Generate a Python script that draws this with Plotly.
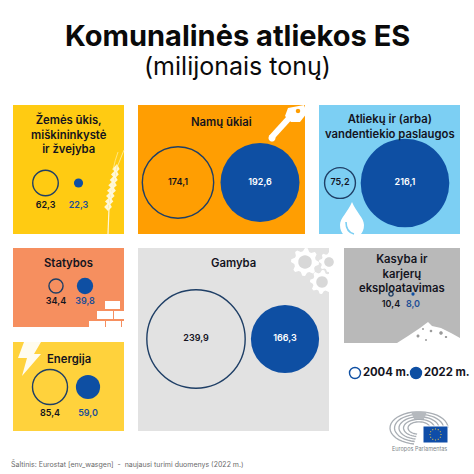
import math
import plotly.graph_objects as go

# ---------- data ----------
YEARS = [2004, 2022]
SECTORS = ["Žemės ūkis,<br>miškininkystė<br>ir žvejyba", "Namų ūkiai",
           "Atliekų ir (arba)<br>vandentiekio paslaugos", "Statybos", "Energija",
           "Gamyba", "Kasyba ir<br>karjerų<br>eksploatavimas"]
WASTE_2004 = [62.3, 174.1, 75.2, 34.4, 85.4, 239.9, 10.4]
WASTE_2022 = [22.3, 192.6, 216.1, 39.8, 59.0, 166.3, 8.0]

# ---------- layout table (page pixels) ----------
W = 474
BLUE = "#0E4FA3"
INK = "#14141E"
FONT = "Inter, 'Open Sans', sans-serif"
PANELS = [
    dict(box=(13, 124, 105, 234), cx=(45.5, 78.5), cy=183, drop=23, bg="#FFCB12", ty=134),
    dict(box=(138, 305, 105, 234), cx=(178, 260), cy=182.5, drop=0, bg="#FF9E02", ty=122),
    dict(box=(319, 460, 105, 234), cx=(340, 405), cy=183, drop=0, bg="#7CCFF3", ty=126),
    dict(box=(13, 124, 248, 327), cx=(56, 85), cy=286, drop=16, bg="#F68F5F", ty=263),
    dict(box=(13, 124, 342, 431), cx=(50, 88), cy=387, drop=27, bg="#FFD23C", ty=359),
    dict(box=(138, 329, 248, 431), cx=(196, 285), cy=339, drop=0, bg="#E2E2E2", ty=263),
    dict(box=(344, 460, 248, 343), cx=(391, 413), cy=294, drop=11, bg="#B9B9B9", ty=273),
]
LEG_BOX = (345, 472, 362, 384)
LEG_CX = (355, 416)
DIAM_PER_VALUE = 0.41


def clean(path_pts, close=True):
    return "M" + "L".join(f"{x:.1f},{y:.1f}" for x, y in path_pts) + ("Z" if close else "")


def gear(cx, cy, r, teeth=8):
    pts = []
    for i in range(teeth * 4):
        a = 2 * math.pi * i / (teeth * 4)
        rr = r if i % 4 in (0, 1) else r * 0.78
        pts.append((cx + rr * math.cos(a), cy + rr * math.sin(a)))
    return clean(pts)


def circle(cx, cy, r, n=28):
    return clean([(cx + r * math.cos(2 * math.pi * i / n), cy + r * math.sin(2 * math.pi * i / n)) for i in range(n)])


def texture(box, step, col, width=0.6):
    x0, x1, y0, y1 = box
    d = ""
    j = 0
    y = y0 + 2
    while y < y1 - 1:
        i = 0
        x = x0 + 2
        while x < x1 - 4:
            k = (i * 7 + j * 13) % 5
            dx = x + k
            dy = y + (i * 11 + j * 3) % 4 - 1
            d += f"M{dx:.1f},{dy:.1f}q{1.5+k*.4:.1f},{-2+k*.6:.1f} {3+k*.3:.1f},{(k-2)*.6:.1f}"
            x += step
            i += 1
        y += step
        j += 1
    return dict(type="path", path=d, xref="x", yref="y", layer="below",
                line=dict(color=col, width=width), fillcolor="rgba(0,0,0,0)")


shapes = []


def solid(path, col="white"):
    shapes.append(dict(type="path", path=path, xref="x", yref="y", layer="below",
                       fillcolor=col, line=dict(width=0)))


def stroke(path, col, width):
    shapes.append(dict(type="path", path=path, xref="x", yref="y", layer="below",
                       line=dict(color=col, width=width), fillcolor="rgba(0,0,0,0)"))


for p in PANELS:
    x0, x1, y0, y1 = p["box"]
    shapes.append(dict(type="rect", x0=x0, x1=x1, y0=y0, y1=y1, xref="x", yref="y", layer="below",
                       fillcolor=p["bg"], line=dict(width=0)))
TEX = [(PANELS[2], 7, "rgba(255,255,255,.4)"), (PANELS[3], 6, "rgba(190,90,40,.4)"),
       (PANELS[4], 8, "rgba(255,240,170,.4)"), (PANELS[5], 7, "rgba(160,160,160,.4)"),
       (PANELS[6], 5, "rgba(110,110,110,.5)"), (PANELS[0], 9, "rgba(255,225,90,.35)")]
for p, st, c in TEX:
    shapes.append(texture(p["box"], st, c))

# key
stroke("M271,138L291,116", "white", 6)
solid(clean([(288, 108), (304, 105), (307, 113), (300, 122), (291, 122), (285, 116)]))
solid(circle(272, 138, 3.5))
solid(circle(298, 111, 2.2), "#FF9E02")
# wheat
stroke("M108,234L109,208", "rgba(255,255,255,.85)", 1.2)
for k in range(8):
    t = k / 7
    ax, ay = 108 + 8 * t, 208 - 38 * t
    w = 4.5 - 1.5 * abs(t - .4)
    solid(clean([(ax, ay + 3), (ax + w, ay - 1), (ax + 1, ay - 6)]), "rgba(255,250,225,.95)")
    solid(clean([(ax, ay + 3), (ax - w, ay - 1), (ax + 1, ay - 6)]), "rgba(255,250,225,.95)")
stroke("M116,170Q120,160 124,150", "rgba(255,240,170,.8)", 1)
stroke("M113,170Q115,160 118,152", "rgba(255,240,170,.7)", 1)
# drop
solid("M352,202C356,212 364,218 364,225C364,234 358,238 352,238C346,238 340,234 340,225C340,218 348,212 352,202Z")
stroke("M346,222Q346,232 354,234", "#7CCFF3", 1.6)
# bricks
for bx0, bx1, by0, by1 in [(105, 120, 301, 309), (97, 113, 311, 319), (114, 124, 311, 319),
                           (89, 105, 321, 327), (106, 121, 321, 327), (122, 124, 321, 327)]:
    shapes.append(dict(type="rect", x0=bx0, x1=bx1, y0=by0, y1=by1, xref="x", yref="y", layer="below",
                       fillcolor="white", line=dict(width=0)))
# lightning
solid(clean([(24, 342), (41, 342), (34, 354), (41, 354), (22, 376), (27, 358), (18, 358)]), "rgba(255,255,255,.92)")
# gears
for gx, gy, gr in [(305, 262, 14), (322, 282, 12), (329, 262, 10)]:
    solid(gear(gx, gy, gr))
    solid(circle(gx, gy, gr * 0.48), "#D8D8D8")
# mountain
solid(clean([(397, 343), (408, 336), (420, 328), (428, 322), (432, 326), (441, 328), (451, 333), (460, 338), (460, 343)]))
for sx, sy, sr in [(418, 336, 1.5), (423, 329, 1), (431, 331, 1.3), (441, 333, 1.8), (446, 337, 1.2), (426, 340, 1)]:
    solid(circle(sx, sy, sr, 10), "#9A9A9A")


# parliament emblem: concentric rings, broken by the flag
def ring_part(rx, ry, a0, a1, n=30):
    cx, cy = 419, 428
    return clean([(cx + rx * math.cos(math.radians(a0 + (a1 - a0) * i / n)),
                   cy + ry * math.sin(math.radians(a0 + (a1 - a0) * i / n))) for i in range(n + 1)], close=False)


for rr in (29, 24.5, 20, 15.5, 11):
    stroke(ring_part(rr, rr * 0.56, 100, 360), "#A9AEB4", 1.3)
solid(clean([(411, 412), (427, 412), (424, 419), (414, 419)]), "#B5B9BE")
shapes.append(dict(type="rect", x0=423, x1=448, y0=426, y1=443, xref="x", yref="y", layer="below",
                   fillcolor="#0F4DA8", line=dict(color="white", width=1)))
for i in range(12):
    a = 2 * math.pi * i / 12
    solid(circle(435.5 + 5.5 * math.cos(a), 434.5 + 5.5 * math.sin(a), 0.6, 6), "#FFD23C")

fig = go.Figure()
layout_axes = {
    "xaxis": dict(domain=[0, 1], range=[0, W], visible=False, fixedrange=True),
    "yaxis": dict(domain=[0, 1], range=[W, 0], visible=False, fixedrange=True),
}
fig.add_trace(go.Scatter(x=[None], y=[None], xaxis="x", yaxis="y", showlegend=False))


def panel_axes(idx, box, cx, cy):
    x0, x1, y0, y1 = box
    per_year = (cx[1] - cx[0]) / (YEARS[1] - YEARS[0])
    xr = [YEARS[0] + (x0 - cx[0]) / per_year, YEARS[0] + (x1 - cx[0]) / per_year]
    layout_axes[f"xaxis{idx}"] = dict(domain=[x0 / W, x1 / W], range=xr, visible=False, fixedrange=True,
                                      anchor=f"y{idx}")
    layout_axes[f"yaxis{idx}"] = dict(domain=[1 - y1 / W, 1 - y0 / W], range=[cy - y1, cy - y0], visible=False,
                                      fixedrange=True, anchor=f"x{idx}")


annotations = []
for n, p in enumerate(PANELS):
    idx = n + 2
    panel_axes(idx, p["box"], p["cx"], p["cy"])
    xa, ya = f"x{idx}", f"y{idx}"
    a, b = WASTE_2004[n], WASTE_2022[n]
    fig.add_trace(go.Scatter(
        x=YEARS, y=[0, 0], xaxis=xa, yaxis=ya, mode="markers", cliponaxis=False, showlegend=False,
        marker=dict(size=[a * DIAM_PER_VALUE, b * DIAM_PER_VALUE], sizemode="diameter", opacity=1,
                    color=["rgba(0,0,0,0)", BLUE],
                    line=dict(color=["#1F3F66", BLUE], width=[1.4, 0]))))
    inside = p["drop"] == 0
    fig.add_trace(go.Scatter(
        x=YEARS, y=[-p["drop"], -p["drop"]], xaxis=xa, yaxis=ya, mode="text", cliponaxis=False, showlegend=False,
        text=[f"{a:.1f}".replace(".", ","), f"{b:.1f}".replace(".", ",")],
        textposition="middle center",
        textfont=dict(family=FONT, size=9, weight=600,
                      color=[INK, "white" if inside else "#1D4E96"])))
    annotations.append(dict(x=(p["box"][0] + p["box"][1]) / 2, y=p["ty"], xref="x", yref="y",
                            text=SECTORS[n], showarrow=False, align="center",
                            font=dict(family=FONT, size=11.3, weight=600, color=INK)))

idx = len(PANELS) + 2
panel_axes(idx, LEG_BOX, LEG_CX, 373)
fig.add_trace(go.Scatter(
    x=YEARS, y=[0, 0], xaxis=f"x{idx}", yaxis=f"y{idx}", mode="markers+text", cliponaxis=False, showlegend=False,
    text=[f"{y} m." for y in YEARS], textposition="middle right",
    textfont=dict(family=FONT, size=11.3, weight=700, color=INK),
    marker=dict(size=11, opacity=1, color=["white", BLUE], line=dict(color=[BLUE, BLUE], width=1.4))))

annotations += [
    dict(x=237, y=35, xref="x", yref="y", text="Komunalinės atliekos ES", showarrow=False,
         font=dict(family=FONT, size=29, weight=700, color="#0A0A0A")),
    dict(x=237, y=66, xref="x", yref="y", text="(milijonais tonų)", showarrow=False,
         font=dict(family=FONT, size=25, color="#0A0A0A")),
    dict(x=9, y=464, xref="x", yref="y", xanchor="left",
         text="Šaltinis: Eurostat [env_wasgen]  -  naujausi turimi duomenys (2022 m.)", showarrow=False,
         font=dict(family=FONT, size=7, color="#6A6A6A")),
    dict(x=419, y=449, xref="x", yref="y", text="Europos Parlamentas", showarrow=False,
         font=dict(family=FONT, size=5.5, color="#7A7F85")),
]

fig.update_layout(width=W, height=W, margin=dict(l=0, r=0, t=0, b=0), paper_bgcolor="white",
                  plot_bgcolor="rgba(0,0,0,0)", showlegend=False, shapes=shapes, annotations=annotations,
                  **layout_axes)
fig.write_html("out.html", config=dict(displayModeBar=False),
               post_script="document.body.style.margin='0';document.body.style.overflow='hidden';")
